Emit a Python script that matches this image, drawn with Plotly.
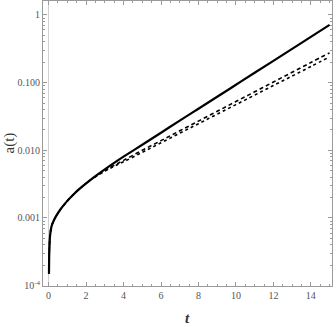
import plotly.graph_objects as go

# time values (x)
t = [0.02, 0.04, 0.08, 0.16, 0.27, 0.43, 0.69, 1.0, 1.3, 1.6, 2.0, 2.5, 3.0, 3.5,
     4.0, 5.0, 6.0, 7.0, 8.0, 9.0, 10.0, 11.0, 12.0, 13.0, 14.0, 15.0]

# scale factor, solid curve
a_solid = [0.00015, 0.00035, 0.00056, 0.00076, 0.00091, 0.0011, 0.00141, 0.00179, 0.00219,
           0.00262, 0.00325, 0.00416, 0.00524, 0.00652, 0.00805, 0.0121, 0.0182, 0.0274,
           0.0411, 0.0618, 0.0929, 0.140, 0.210, 0.315, 0.474, 0.713]

# dashed curve
a_dash = [0.00015, 0.00035, 0.00056, 0.00076, 0.00091, 0.0011, 0.00141, 0.00179, 0.00219,
          0.00262, 0.00325, 0.0041, 0.0050, 0.0060, 0.0071, 0.0100, 0.0139, 0.0194,
          0.0270, 0.0377, 0.0525, 0.0731, 0.102, 0.142, 0.198, 0.275]

# dotted curve
a_dot = [0.00015, 0.00035, 0.00056, 0.00076, 0.00091, 0.0011, 0.00141, 0.00179, 0.00219,
         0.00262, 0.00325, 0.00405, 0.0049, 0.0058, 0.00676, 0.00933, 0.0129, 0.0179,
         0.0247, 0.0342, 0.0473, 0.0655, 0.0906, 0.125, 0.173, 0.240]

y_tickvals = [1e-4, 1e-3, 1e-2, 1e-1, 1]
y_ticktext = ['10<sup>-4</sup>', '0.001', '0.010', '0.100', '1']
x_tickvals = [0, 2, 4, 6, 8, 10, 12, 14]

# minor log ticks 2..9 per decade
y_minor = [m * 10.0 ** e for e in range(-4, 1) for m in range(2, 10)]

frame = '#9a9a9a'
tickfont = dict(family='Liberation Serif', size=10, color='#555555')

fig = go.Figure()

fig.add_trace(go.Scatter(x=t, y=a_dot, mode='lines', line=dict(color='black', width=1.6, dash='dot', shape='spline')))
fig.add_trace(go.Scatter(x=t, y=a_dash, mode='lines', line=dict(color='black', width=1.6, dash='4px,3px', shape='spline')))
fig.add_trace(go.Scatter(x=t, y=a_solid, mode='lines', line=dict(color='black', width=2.2, shape='spline')))

fig.update_layout(
    width=336, height=327,
    margin=dict(l=43, r=4, t=1, b=41),
    plot_bgcolor='white',
    paper_bgcolor='white',
    showlegend=False,
    xaxis=dict(
        range=[-0.30, 15.13],
        tickvals=x_tickvals,
        ticks='inside', ticklen=4, tickcolor=frame,
        minor=dict(dtick=0.5, tick0=0, ticks='inside', ticklen=2, tickcolor=frame),
        showline=True, linecolor=frame, linewidth=1, mirror='ticks',
        showgrid=False,
        zeroline=True, zerolinecolor='#d0d0d0', zerolinewidth=1,
        tickfont=tickfont,
    ),
    yaxis=dict(
        type='log',
        range=[-4.005, 0.206],
        tickvals=y_tickvals, ticktext=y_ticktext,
        ticks='inside', ticklen=4, tickcolor=frame,
        minor=dict(tickvals=y_minor, ticks='inside', ticklen=2, tickcolor=frame),
        showline=True, linecolor=frame, linewidth=1, mirror='ticks',
        showgrid=False, zeroline=False,
        tickfont=tickfont,
    ),
    annotations=[
        dict(text='a(t)', xref='paper', yref='paper', x=0, y=0.5, xshift=-34,
             xanchor='center', yanchor='middle', textangle=-90, showarrow=False,
             font=dict(family='Liberation Serif', size=15, color='#333333')),
        dict(text='<b><i>t</i></b>', xref='paper', yref='paper', x=0.5, y=0, yshift=-32,
             xanchor='center', yanchor='middle', showarrow=False,
             font=dict(family='Liberation Serif', size=15, color='#333333')),
    ],
)

fig.write_html("out.html", config={'displayModeBar': False},
               post_script="document.body.style.margin='0';")
